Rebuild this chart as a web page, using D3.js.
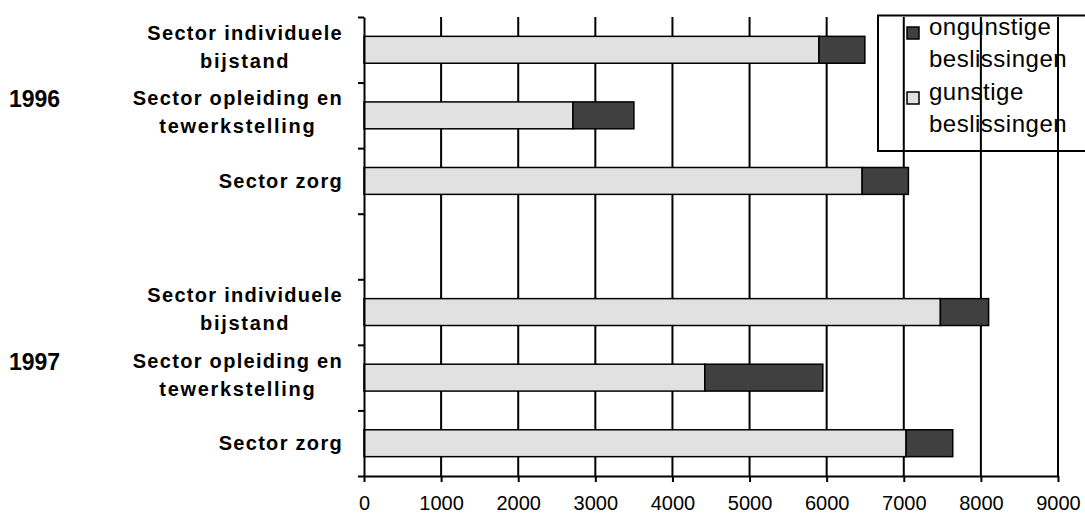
<!DOCTYPE html>
<html>
<head>
<meta charset="utf-8">
<script src="https://cdn.jsdelivr.net/npm/d3@7"></script>
<style>
  body { margin: 0; background: #fff; }
  svg { display: block; font-family: "Liberation Sans", Arial, sans-serif; }
</style>
</head>
<body>
<div id="chart"></div>
<script>
const years = ["1996", "1997"];
const sectors = [
    ["Sector individuele", "bijstand"],
    ["Sector opleiding en", "tewerkstelling"],
    ["Sector zorg"]
];
const gunstig1996 = [5900, 2710, 6460];
const ongunstig1996 = [595, 790, 600];
const gunstig1997 = [7475, 4420, 7030];
const ongunstig1997 = [625, 1530, 605];
const xTicks = [0, 1000, 2000, 3000, 4000, 5000, 6000, 7000, 8000, 9000];
const seriesNames = [["ongunstige", "beslissingen"], ["gunstige", "beslissingen"]];

const width = 1085;
const height = 513;
const plotLeft = 364, plotRight = 1058, plotTop = 17, plotBottom = 476;

const colors = { ongunstig: "#404040", gunstig: "#e1e1e1" };

// rows: 3 sectors, an empty slot, 3 sectors
const rows = [];
years.forEach((year, yi) => {
    const g = yi === 0 ? gunstig1996 : gunstig1997;
    const o = yi === 0 ? ongunstig1996 : ongunstig1997;
    sectors.forEach((s, si) => {
        rows.push({ key: year + "-" + si, year, sector: s, si, gunstig: g[si], ongunstig: o[si] });
    });
    if (yi === 0) rows.push({ key: "gap", gap: true });
});

const svg = d3.select("#chart")
    .append("svg")
    .attr("width", width)
    .attr("height", height);

const x = d3.scaleLinear()
    .domain([0, 9000])
    .range([plotLeft, plotRight]);

const y = d3.scaleBand()
    .domain(rows.map(d => d.key))
    .range([plotTop, plotBottom])
    .paddingInner(0.59)
    .paddingOuter(0.295);

const slot = d3.scaleLinear()
    .domain([0, rows.length])
    .range([plotTop, plotBottom]);

// gridlines
svg.append("g")
    .selectAll("line")
    .data(xTicks.slice(1))
    .enter()
    .append("line")
    .attr("x1", d => x(d))
    .attr("x2", d => x(d))
    .attr("y1", plotTop)
    .attr("y2", plotBottom)
    .attr("stroke", "#000")
    .attr("stroke-width", 2);

// bars
const bars = rows.filter(d => !d.gap);

svg.selectAll(".gunstig")
    .data(bars)
    .enter()
    .append("rect")
    .attr("class", "gunstig")
    .attr("x", x(0))
    .attr("y", d => y(d.key))
    .attr("width", d => x(d.gunstig) - x(0))
    .attr("height", y.bandwidth())
    .attr("fill", colors.gunstig)
    .attr("stroke", "#000")
    .attr("stroke-width", 1.5);

svg.selectAll(".ongunstig")
    .data(bars)
    .enter()
    .append("rect")
    .attr("class", "ongunstig")
    .attr("x", d => x(d.gunstig))
    .attr("y", d => y(d.key))
    .attr("width", d => x(d.gunstig + d.ongunstig) - x(d.gunstig))
    .attr("height", y.bandwidth())
    .attr("fill", colors.ongunstig)
    .attr("stroke", "#000")
    .attr("stroke-width", 1.5);

// axes
const xAxis = d3.axisBottom(x)
    .tickValues(xTicks)
    .tickFormat(d3.format("d"))
    .tickSizeInner(6)
    .tickSizeOuter(0)
    .tickPadding(14);

const gx = svg.append("g")
    .attr("transform", `translate(0, ${plotBottom})`)
    .call(xAxis);
gx.select(".domain").attr("stroke-width", 2);
gx.selectAll(".tick line").attr("stroke-width", 2);
gx.selectAll(".tick text")
    .style("font-family", "Liberation Sans, Arial, sans-serif")
    .style("font-size", "20px")
    .attr("fill", "#000");

const yAxis = d3.axisLeft(slot)
    .tickValues(d3.range(rows.length + 1))
    .tickFormat("")
    .tickSizeInner(6)
    .tickSizeOuter(0);

const gy = svg.append("g")
    .attr("transform", `translate(${plotLeft}, 0)`)
    .call(yAxis);
gy.select(".domain").attr("stroke-width", 2);
gy.selectAll(".tick line").attr("stroke-width", 2);

// category labels: right aligned, wrapped second line centred under the first
const labels = svg.append("g")
    .style("font-size", "20px")
    .style("font-weight", "bold")
    .style("letter-spacing", "1.3px")
    .attr("fill", "#000");

bars.forEach(d => {
    const cy = y(d.key) + y.bandwidth() / 2;
    if (d.sector.length === 1) {
        labels.append("text")
            .attr("x", 343)
            .attr("y", cy + 7)
            .attr("text-anchor", "end")
            .text(d.sector[0]);
    } else {
        const t1 = labels.append("text")
            .attr("x", 343)
            .attr("y", cy - 10)
            .attr("text-anchor", "end")
            .text(d.sector[0]);
        const w1 = t1.node().getComputedTextLength();
        labels.append("text")
            .attr("x", 343 - w1 / 2)
            .attr("y", cy + 18)
            .attr("text-anchor", "middle")
            .style("letter-spacing", "1.7px")
            .text(d.sector[1]);
    }
});

// year labels
years.forEach(year => {
    const mid = y(year + "-1") + y.bandwidth() / 2;
    svg.append("text")
        .attr("x", 9)
        .attr("y", mid - 8)
        .style("font-size", "23px")
        .style("font-weight", "bold")
        .attr("fill", "#000")
        .text(year);
});

// legend
const legend = svg.append("g");
legend.append("rect")
    .attr("x", 878)
    .attr("y", 15.5)
    .attr("width", 240)
    .attr("height", 135.5)
    .attr("fill", "none")
    .attr("stroke", "#000")
    .attr("stroke-width", 2);

const legendFill = [colors.ongunstig, colors.gunstig];
seriesNames.forEach((name, i) => {
    const base = 35 + i * 65;
    legend.append("rect")
        .attr("x", 907)
        .attr("y", base - 8)
        .attr("width", 12)
        .attr("height", 12)
        .attr("fill", legendFill[i])
        .attr("stroke", "#000")
        .attr("stroke-width", 1.5);
    name.forEach((line, j) => {
        legend.append("text")
            .attr("x", 929)
            .attr("y", base + j * 32)
            .style("font-size", "24px")
            .style("letter-spacing", "0.5px")
            .attr("fill", "#000")
            .text(line);
    });
});
</script>
</body>
</html>
